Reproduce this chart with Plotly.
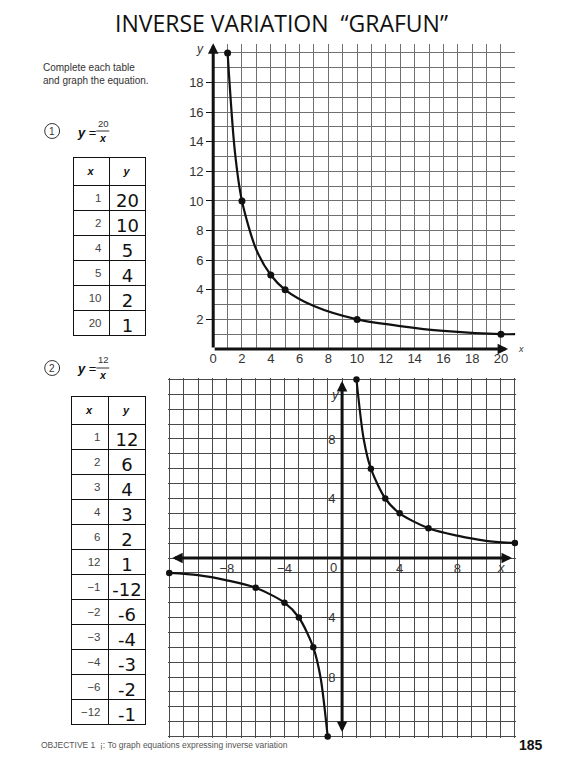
import plotly.graph_objects as go

W, H = 562, 763

# table 1: y = 20 / x
t1_x = [1, 2, 4, 5, 10, 20]
t1_y = [20, 10, 5, 4, 2, 1]
# curve drawn through the graph 1 points
c1_x = [1, 1.5, 2, 3, 4, 5, 7, 10, 13, 16, 20, 21]
c1_y = [20, 13.4, 10, 6.7, 5, 4, 2.9, 2, 1.55, 1.22, 1, 1]

# table 2: y = 12 / x
t2_x = [1, 2, 3, 4, 6, 12, -1, -2, -3, -4, -6, -12]
t2_y = [12, 6, 4, 3, 2, 1, -12, -6, -4, -3, -2, -1]
c2_pos_x = [1, 1.5, 2, 3, 4, 6, 8, 10, 12]
c2_pos_y = [12, 8, 6, 4, 3, 2, 1.5, 1.15, 1]
c2_neg_x = [-12, -10, -8, -6, -4, -3, -2, -1.5, -1]
c2_neg_y = [-1, -1.15, -1.5, -2, -3, -4, -6, -8, -12]

g1_ticks = [2, 4, 6, 8, 10, 12, 14, 16, 18]
g1_xticks = [0, 2, 4, 6, 8, 10, 12, 14, 16, 18, 20]
g2_ticks = [-8, -4, 4, 8]


def fmt(v):
    return str(v).replace("-", "\u2212")


def hand(v):
    # the handwritten column uses a short dash
    return str(v)


def px(x):
    return x / W


def py(y):
    return 1 - y / H


def note(text, x, y, font, xanchor="center", **kw):
    # page text placed by pixel position
    return dict(text=text, x=px(x), y=py(y), xref="paper", yref="paper",
                showarrow=False, xanchor=xanchor, yanchor="middle", font=font, **kw)


INK = "#111111"
fig = go.Figure()

# graph 1
fig.add_trace(go.Scatter(
    x=c1_x, y=c1_y, mode="lines", xaxis="x", yaxis="y",
    line={"color": INK, "width": 2.2, "shape": "spline", "smoothing": 0.8},
    hoverinfo="skip", cliponaxis=False,
))
fig.add_trace(go.Scatter(
    x=t1_x, y=t1_y, mode="markers", xaxis="x", yaxis="y",
    marker={"color": INK, "size": 7}, cliponaxis=False,
))

# graph 2
for cx, cy in [(c2_pos_x, c2_pos_y), (c2_neg_x, c2_neg_y)]:
    fig.add_trace(go.Scatter(
        x=cx, y=cy, mode="lines", xaxis="x2", yaxis="y2",
        line={"color": INK, "width": 2.2, "shape": "spline", "smoothing": 0.8},
        hoverinfo="skip", cliponaxis=False,
    ))
fig.add_trace(go.Scatter(
    x=t2_x, y=t2_y, mode="markers", xaxis="x2", yaxis="y2",
    marker={"color": INK, "size": 6.5}, cliponaxis=False,
))

# tables
for vals_x, vals_y, x0, x1, y0, y1, hh in [
    (t1_x, t1_y, 70, 143, 157, 345, 24),
    (t2_x, t2_y, 68, 143, 396, 740, 26),
]:
    fig.add_trace(go.Table(
        domain={"x": [px(x0), px(x1)], "y": [py(y1), py(y0)]},
        columnwidth=[37, 37],
        header={
            "values": ["<b><i>x</i></b>", "<b><i>y</i></b>"],
            "align": "center", "height": hh,
            "line": {"color": INK, "width": 1},
            "fill": {"color": "white"},
            "font": {"family": "Liberation Sans", "size": 11, "color": INK},
        },
        cells={
            "values": [[fmt(v) for v in vals_x], [hand(v) for v in vals_y]],
            "align": ["right", "center"], "height": 25,
            "line": {"color": INK, "width": 1},
            "fill": {"color": "white"},
            "font": {"family": ["Liberation Sans", "DejaVu Sans"],
                     "size": [11.5, 18], "color": ["#444", INK]},
        },
    ))

grid1 = "#707070"
grid2 = "#4a4a4a"
ann = []

# axis arrows
arrow = {"showarrow": True, "text": "", "arrowcolor": INK, "arrowwidth": 3,
         "arrowhead": 2, "arrowsize": 0.7}
ann.append(dict(arrow, x=0, y=20.65, ax=0, ay=0, xref="x", yref="y", axref="x", ayref="y"))
ann.append(dict(arrow, x=20.5, y=0, ax=0, ay=0, xref="x", yref="y", axref="x", ayref="y"))
ann.append(dict(arrow, x=11.8, y=0, ax=-11.9, ay=0, xref="x2", yref="y2",
                axref="x2", ayref="y2", arrowside="end+start"))
ann.append(dict(arrow, x=0, y=11.9, ax=0, ay=-11.8, xref="x2", yref="y2",
                axref="x2", ayref="y2", arrowside="end+start"))

label = {"family": "Liberation Sans", "size": 13, "color": "#333"}
ann.append(note("<i>y</i>", 197, 49, {"family": "Liberation Sans", "size": 12, "color": "#333"}))
ann.append(note("<i>x</i>", 521, 349, {"family": "Liberation Sans", "size": 9, "color": "#333"}))
ann.append(note("<i>y</i>", 334, 394, label))
ann.append(note("<i>x</i>", 501, 567, label))
ann.append(note("0", 332, 567, label))

# title and page text
ann.append(note("INVERSE VARIATION  \u201cGRAFUN\u201d", 279, 23,
                {"family": "Open Sans", "size": 23, "color": INK}))
ann.append(note("Complete each table<br>and graph the equation.", 37, 74,
                {"family": "Liberation Sans", "size": 10, "color": "#333"},
                xanchor="left", align="left"))
ann.append(note("OBJECTIVE 1  \u00a1: To graph equations expressing inverse variation", 35, 745,
                {"family": "Liberation Sans", "size": 8.5, "color": "#555"}, xanchor="left"))
ann.append(note("<b>185</b>", 531, 745, {"family": "Liberation Sans", "size": 14, "color": INK}))

# equation headings
shapes = []
eq_font = {"family": "Liberation Sans", "size": 13, "color": INK}
small = {"family": "Liberation Sans", "size": 9.5, "color": "#333"}
for n, num, cy in [("1", "20", 131), ("2", "12", 368)]:
    shapes.append(dict(type="circle", xref="paper", yref="paper",
                       x0=px(41), x1=px(56), y0=py(cy + 7.5), y1=py(cy - 7.5),
                       line={"color": "#333", "width": 1}))
    ann.append(note(n, 48.5, cy, {"family": "Liberation Sans", "size": 10, "color": "#333"}))
    ann.append(note("<b><i>y</i></b> =", 72, cy + 1, eq_font, xanchor="left"))
    ann.append(note(num, 100, cy - 8, small))
    ann.append(note("<b><i>x</i></b>", 99.5, cy + 7, {"family": "Liberation Sans", "size": 10.5, "color": INK}))
    shapes.append(dict(type="line", xref="paper", yref="paper", x0=px(93), x1=px(106),
                       y0=py(cy), y1=py(cy), line={"color": "#333", "width": 1}))

tick_font = {"family": "Liberation Sans", "size": 13, "color": "#333"}
fig.update_layout(
    width=W, height=H,
    margin={"l": 0, "r": 0, "t": 0, "b": 0},
    paper_bgcolor="white", plot_bgcolor="white",
    showlegend=False,
    xaxis=dict(domain=[px(210.7), px(515)], range=[0, 21], anchor="y",
               showgrid=True, gridcolor=grid1, gridwidth=1,
               tickvals=g1_xticks, ticktext=[str(v) for v in g1_xticks],
               minor=dict(dtick=1, showgrid=True, gridcolor=grid1, gridwidth=1),
               zeroline=False, showline=False, ticks="", tickfont=tick_font,
               fixedrange=True),
    yaxis=dict(domain=[py(349), py(44)], range=[0, 20.6], anchor="x",
               showgrid=True, gridcolor=grid1, gridwidth=1,
               tickvals=g1_ticks, ticks="outside", ticklen=6, tickcolor=INK,
               minor=dict(dtick=1, showgrid=True, gridcolor=grid1, gridwidth=1),
               zeroline=False, showline=False, tickfont=tick_font,
               fixedrange=True),
    xaxis2=dict(domain=[px(165), px(516)], range=[-12.1, 12.1], anchor="free",
                position=py(558), showgrid=True, gridcolor=grid2, gridwidth=1,
                tickvals=g2_ticks, ticktext=[fmt(v) for v in g2_ticks],
                minor=dict(dtick=1, showgrid=True, gridcolor=grid2, gridwidth=1),
                zeroline=False, showline=False, ticks="", tickfont=tick_font,
                ticklabelstandoff=1, fixedrange=True),
    yaxis2=dict(domain=[py(738), py(378)], range=[-12.1, 12.1], anchor="free",
                position=px(341), showgrid=True, gridcolor=grid2, gridwidth=1,
                tickvals=g2_ticks, ticktext=[fmt(v) for v in g2_ticks],
                minor=dict(dtick=1, showgrid=True, gridcolor=grid2, gridwidth=1),
                zeroline=False, showline=False, ticks="", tickfont=tick_font,
                ticklabelstandoff=7, fixedrange=True),
    annotations=ann,
    shapes=shapes,
)

fig.write_html("out.html", config={"displayModeBar": False},
               post_script="document.body.style.margin='0';")
